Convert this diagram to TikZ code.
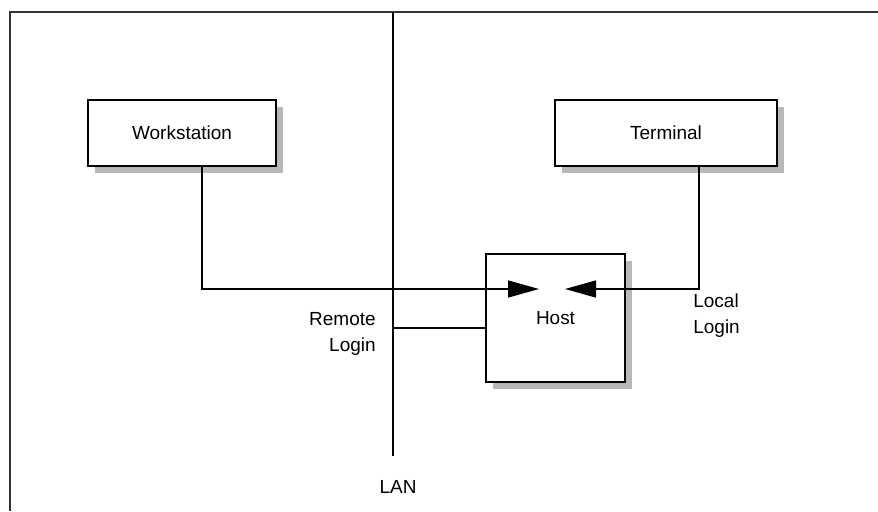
\documentclass[tikz,border=0pt]{standalone}
\usepackage{fontspec}
\setmainfont{Liberation Sans}
\usepackage{tikz}
\usetikzlibrary{shapes, positioning, arrows.meta, shadows}

\tikzset{
    unit/.style={rectangle, draw, line width=0.8pt, fill=white, inner sep=0pt,
        drop shadow={shadow xshift=0.14cm, shadow yshift=-0.14cm, fill=black!28, opacity=1}},
    wire/.style={line width=0.8pt},
    tip/.style={wire, -{Triangle[length=0.62cm, width=0.34cm]}},
    lbl/.style={font=\fontsize{10.8}{14.8}\selectfont, inner sep=0pt}
}

\begin{document}
\begin{tikzpicture}[x=0.02cm, y=-0.02cm]
        \useasboundingbox (0, 0) rectangle (878, 511);
        \draw[line width=1.1pt, black!80] (878, 12) -- (10, 12) -- (10, 511);

        \node[unit, minimum width=3.76cm, minimum height=1.32cm, lbl] (ws) at (182, 133) {Workstation};
        \node[unit, minimum width=4.44cm, minimum height=1.32cm, lbl] (term) at (666, 133) {Terminal};
        \node[unit, minimum width=2.78cm, minimum height=2.56cm, lbl] (host) at (555.5, 318) {Host};

        \coordinate (lantop) at (393, 12);
        \coordinate (lanbot) at (393, 456);
        \coordinate (tap) at (393, 328);
        \coordinate (wsin) at (539, 289);
        \coordinate (termin) at (565, 289);

        \node[lbl] (lan) at (398, 487) {LAN};
        \node[lbl, align=right, anchor=east] (remote) at (376, 334) {Remote\\Login};
        \node[lbl, align=left, anchor=west] (local) at (693, 316) {Local\\Login};

        \draw[wire] (lantop) to (lanbot)
            (tap) to (tap -| host.west);
        \draw[tip] (ws.south -| 202, 0) |- (wsin);
        \draw[tip] (term.south -| 699, 0) |- (termin);
    \end{tikzpicture}
\end{document}
